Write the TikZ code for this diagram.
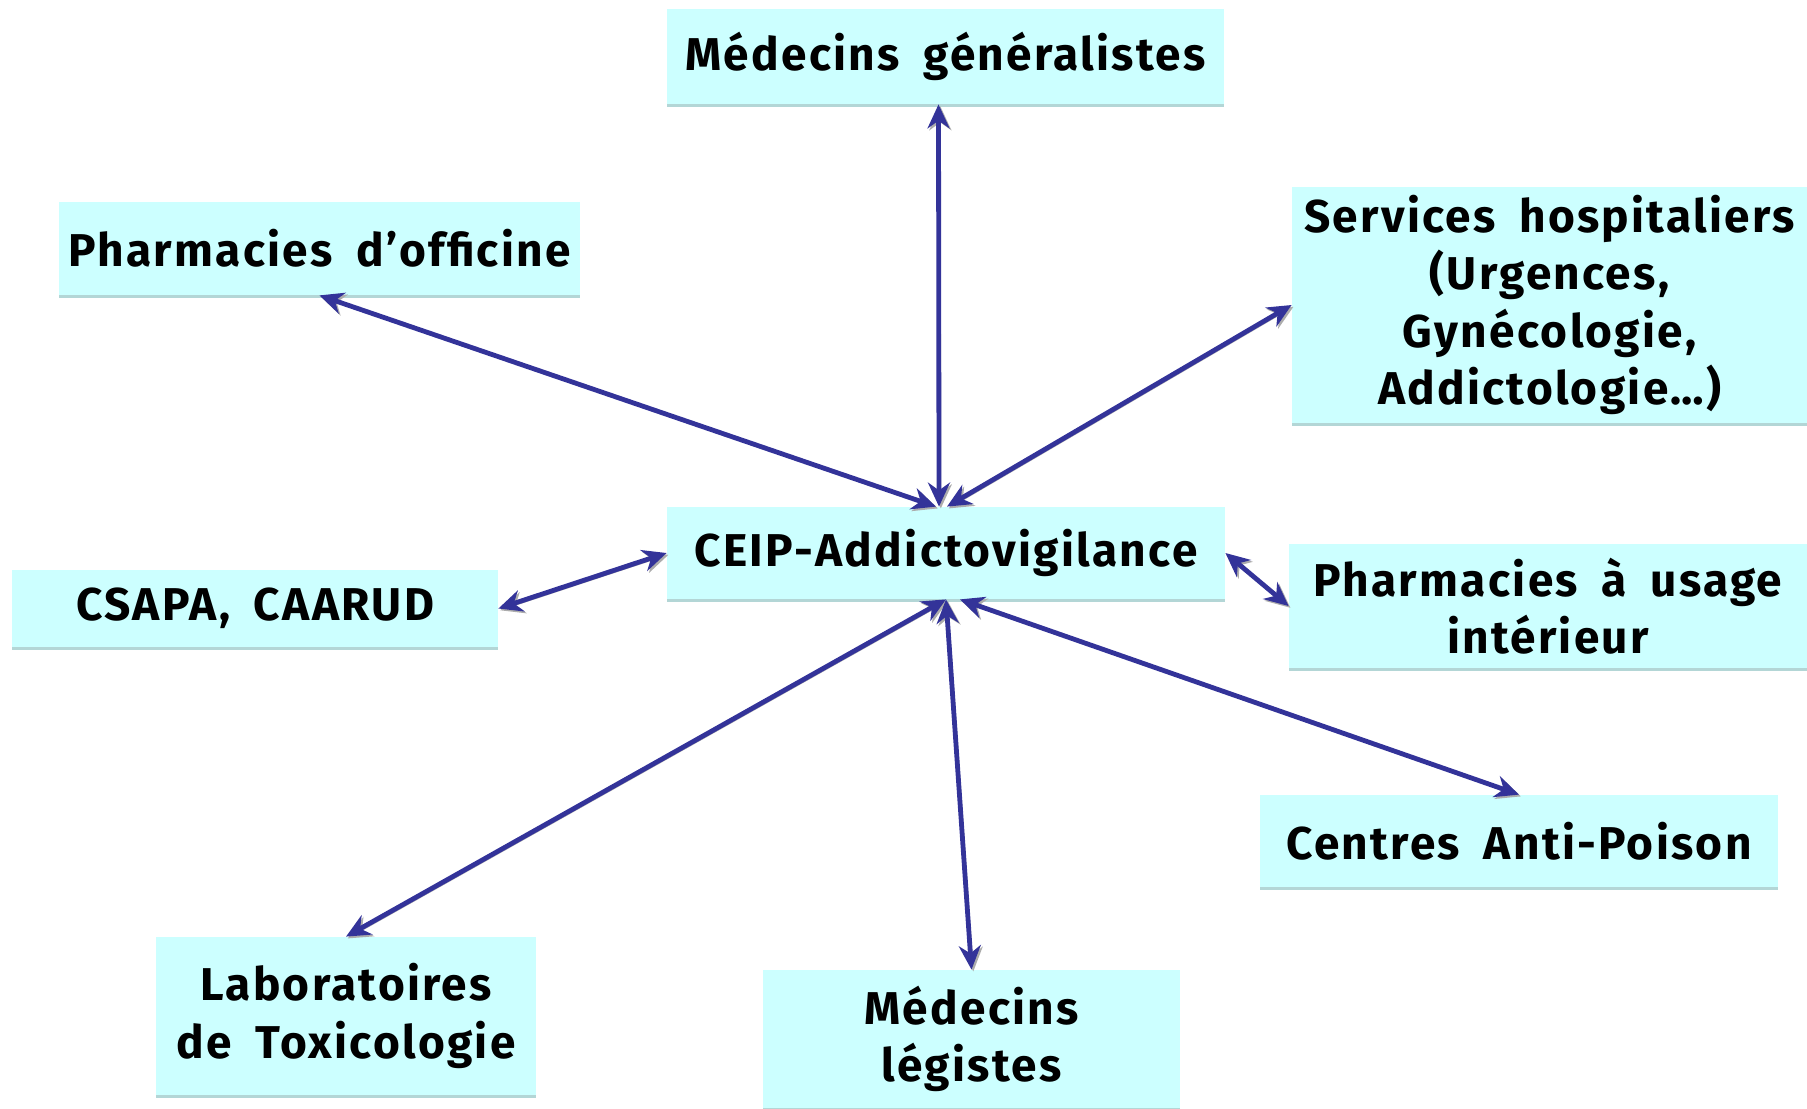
\documentclass[tikz,border=0pt]{standalone}
\usepackage{fontspec}
\setmainfont[LetterSpace=5,WordSpace=1.8]{Fira Sans}
\usetikzlibrary{arrows.meta}
\definecolor{boxc}{HTML}{CCFFFF}
\definecolor{shc}{HTML}{B3D6D6}
\definecolor{arc}{HTML}{333399}
\tikzset{
  box/.style={fill=boxc, inner sep=0pt, align=center,
    font=\bfseries\fontsize{23}{28.8}\selectfont,
    preaction={fill=shc, transform canvas={yshift=-1.5pt}}},
  link/.style={draw=arc, line width=2.4pt,
    {Stealth[length=12pt,width=11pt]}-{Stealth[length=12pt,width=11pt]},
    preaction={draw=gray!65, transform canvas={shift={(0.9pt,-0.9pt)}}}},
}
\begin{document}
\begin{tikzpicture}[x=0.5pt,y=-0.5pt]
\useasboundingbox (0,0) rectangle (1807,1108);
\node[box, minimum width=278.5pt, minimum height=47.5pt] (mg) at (945.5,56.5) {Médecins généralistes};
\node[box, minimum width=260.5pt, minimum height=46.5pt] (po) at (319.5,248.5) {Pharmacies d’officine};
\node[box, minimum width=257.5pt, minimum height=118pt] (sh) at (1549.5,305) {Services hospitaliers\\(Urgences,\\Gynécologie,\\Addictologie…)};
\node[box, minimum width=279pt, minimum height=46pt] (ceip) at (946,553) {CEIP-Addictovigilance};
\node[box, minimum width=243pt, minimum height=38.5pt] (csapa) at (255,608.5) {CSAPA, CAARUD};
\node[box, minimum width=259pt, minimum height=62pt] (pui) at (1548,606) {Pharmacies à usage\\intérieur};
\node[box, minimum width=259pt, minimum height=46pt] (cap) at (1519,841) {Centres Anti-Poison};
\node[box, minimum width=190pt, minimum height=79pt] (lab) at (346,1016) {Laboratoires\\de Toxicologie};
\node[box, minimum width=208.5pt, minimum height=69pt] (ml) at (971.5,1039) {Médecins\\légistes};

\draw[link] ([xshift=-3.5pt]mg.south) -- ([xshift=-3.5pt]ceip.north);
\draw[link] (po.south) -- ([xshift=-5pt]ceip.north);
\draw[link] (sh.west) -- ([xshift=0.5pt]ceip.north);
\draw[link] (csapa.east) -- (ceip.west);
\draw[link] (ceip.east) -- (pui.west);
\draw[link] ([xshift=7pt]ceip.south) -- (cap.north);
\draw[link] (ceip.south) -- (lab.north);
\draw[link] (ceip.south) -- (ml.north);
\end{tikzpicture}
\end{document}
